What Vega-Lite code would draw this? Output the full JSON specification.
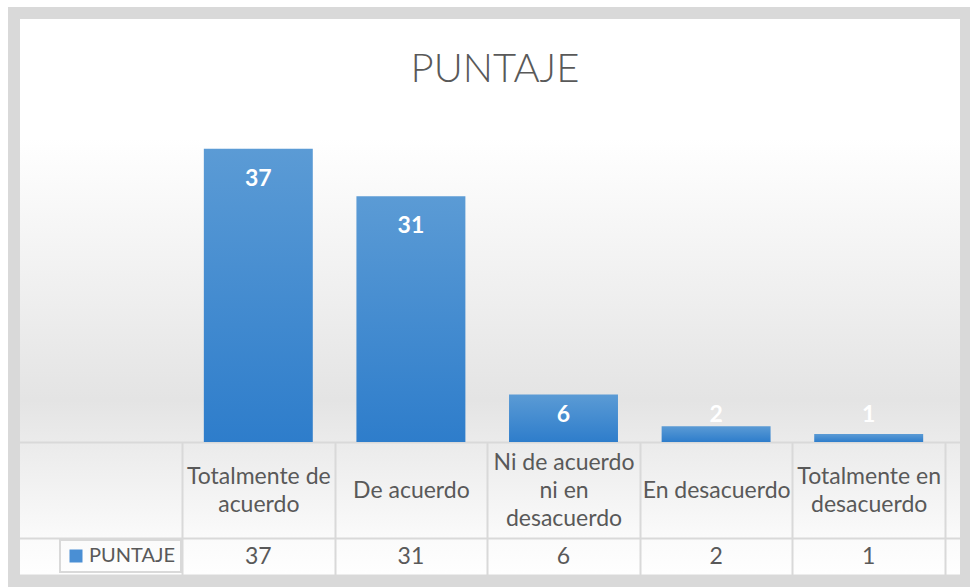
{
  "$schema": "https://vega.github.io/schema/vega-lite/v6.json",
  "width": 952,
  "height": 569,
  "autosize": {"type": "none"},
  "padding": {"left": 14, "top": 13, "right": 4, "bottom": 5},
  "background": "#ffffff",
  "title": {
    "text": "PUNTAJE",
    "font": "Lato",
    "fontSize": 40,
    "fontWeight": 300,
    "color": "#595959",
    "anchor": "middle",
    "dx": 5,
    "dy": 109,
    "offset": 0,
    "baseline": "alphabetic"
  },
  "data": {
    "values": [
      {"categoria": "Totalmente de acuerdo", "puntaje": 37},
      {"categoria": "De acuerdo", "puntaje": 31},
      {"categoria": "Ni de acuerdo ni en desacuerdo", "puntaje": 6},
      {"categoria": "En desacuerdo", "puntaje": 2},
      {"categoria": "Totalmente en desacuerdo", "puntaje": 1}
    ]
  },
  "config": {
    "view": {
      "stroke": "#d9d9d9",
      "strokeWidth": 12,
      "fill": {
        "gradient": "linear", "x1": 0, "y1": 0, "x2": 0, "y2": 1,
        "stops": [
          {"offset": 0, "color": "#ffffff"},
          {"offset": 0.22, "color": "#ffffff"},
          {"offset": 0.68, "color": "#e4e4e4"},
          {"offset": 0.93, "color": "#fbfbfb"},
          {"offset": 1, "color": "#ffffff"}
        ]
      }
    },
    "font": "Lato",
    "legend": {"strokeWidth": 2},
    "axis": {
      "labelFont": "Lato",
      "labelColor": "#595959",
      "labelFontSize": 23,
      "domainColor": "#d9d9d9",
      "domainWidth": 2,
      "tickColor": "#d9d9d9",
      "tickWidth": 2,
      "title": null,
      "grid": false,
      "labelAngle": 0
    }
  },
  "layer": [
    {
      "encoding": {
        "x": {
          "field": "categoria",
          "type": "nominal",
          "sort": null,
          "scale": {"type": "band", "paddingInner": 0, "paddingOuter": 0.6193, "align": 0.8889},
          "axis": {
            "orient": "bottom",
            "offset": -140,
            "domain": true,
            "ticks": true,
            "tickBand": "extent",
            "tickSize": 133,
            "labelBaseline": "middle",
            "labelPadding": {
              "condition": [
                {"test": "datum.value == 'Ni de acuerdo ni en desacuerdo'", "value": -113},
                {"test": "datum.value == 'Totalmente de acuerdo' || datum.value == 'Totalmente en desacuerdo'", "value": -99}
              ],
              "value": -85
            },
            "labelLineHeight": 28,
            "labelLimit": 0,
            "labelOverlap": false,
            "labelFlush": false,
            "labelExpr": "datum.value == 'Totalmente de acuerdo' ? ['Totalmente de', 'acuerdo'] : datum.value == 'Ni de acuerdo ni en desacuerdo' ? ['Ni de acuerdo', 'ni en', 'desacuerdo'] : datum.value == 'Totalmente en desacuerdo' ? ['Totalmente en', 'desacuerdo'] : datum.label"
          }
        }
      },
      "layer": [
        {
          "mark": {
            "type": "bar",
            "width": {"band": 0.714},
            "color": {
              "gradient": "linear", "x1": 0, "y1": 0, "x2": 0, "y2": 1,
              "stops": [
                {"offset": 0, "color": "#5b9bd5"},
                {"offset": 1, "color": "#2e7dcb"}
              ]
            }
          },
          "encoding": {
            "y": {
              "field": "puntaje",
              "type": "quantitative",
              "scale": {"domain": [-17.666, 54.132], "nice": false, "zero": false},
              "axis": null
            },
            "y2": {"datum": 0}
          }
        },
        {
          "mark": {"type": "text", "dy": 30, "fontSize": 23, "fontWeight": "bold", "color": "#ffffff", "font": "Lato"},
          "encoding": {
            "y": {"field": "puntaje", "type": "quantitative"},
            "text": {"field": "puntaje", "type": "quantitative"},
            "opacity": {"condition": {"test": "datum.puntaje >= 7", "value": 1}, "value": 0}
          }
        },
        {
          "mark": {"type": "text", "fontSize": 23, "fontWeight": "bold", "color": "#ffffff", "font": "Lato"},
          "encoding": {
            "y": {"datum": 3.4},
            "text": {"field": "puntaje", "type": "quantitative"},
            "opacity": {"condition": {"test": "datum.puntaje < 7", "value": 1}, "value": 0}
          }
        }
      ]
    },
    {
      "mark": {"type": "text", "opacity": 0},
      "encoding": {
        "x": {
          "field": "puntaje",
          "type": "ordinal",
          "sort": "descending",
          "scale": {"type": "band", "paddingInner": 0, "paddingOuter": 0.6193, "align": 0.8889},
          "axis": {
            "orient": "bottom",
            "offset": -44,
            "domain": true,
            "ticks": false,
            "labelBaseline": "middle",
            "labelPadding": 18,
            "labelOverlap": false,
            "labelFlush": false
          }
        },
        "text": {"field": "puntaje", "type": "quantitative"}
      }
    },
    {
      "mark": {"type": "point", "shape": "square", "filled": true, "opacity": 0},
      "encoding": {
        "x": {
          "field": "categoria",
          "type": "nominal",
          "sort": null,
          "scale": {"type": "band", "paddingInner": 0, "paddingOuter": 0.6193, "align": 0.8889},
          "axis": {"orient": "bottom", "offset": -7, "domain": true, "ticks": false, "labels": false}
        },
        "color": {
          "datum": "PUNTAJE",
          "scale": {"range": ["#4a8fd4"]},
          "legend": {
            "orient": "none",
            "legendX": 46,
            "legendY": 527,
            "title": null,
            "strokeColor": "#d9d9d9",
            "padding": 6,
            "symbolType": "square",
            "symbolSize": 169,
            "symbolOpacity": 1,
            "symbolStrokeWidth": 0,
            "labelFontSize": 20,
            "labelColor": "#595959",
            "labelFont": "Lato",
            "labelOffset": 3,
            "encode": {
              "symbols": {
                "update": {
                  "opacity": {"value": 1},
                  "fill": {"value": {
                    "gradient": "linear", "x1": 0, "y1": 0, "x2": 0, "y2": 1,
                    "stops": [
                      {"offset": 0, "color": "#5b9bd5"},
                      {"offset": 1, "color": "#2e7dcb"}
                    ]
                  }}
                }
              }
            }
          }
        }
      }
    }
  ],
  "resolve": {"scale": {"x": "independent"}}
}
